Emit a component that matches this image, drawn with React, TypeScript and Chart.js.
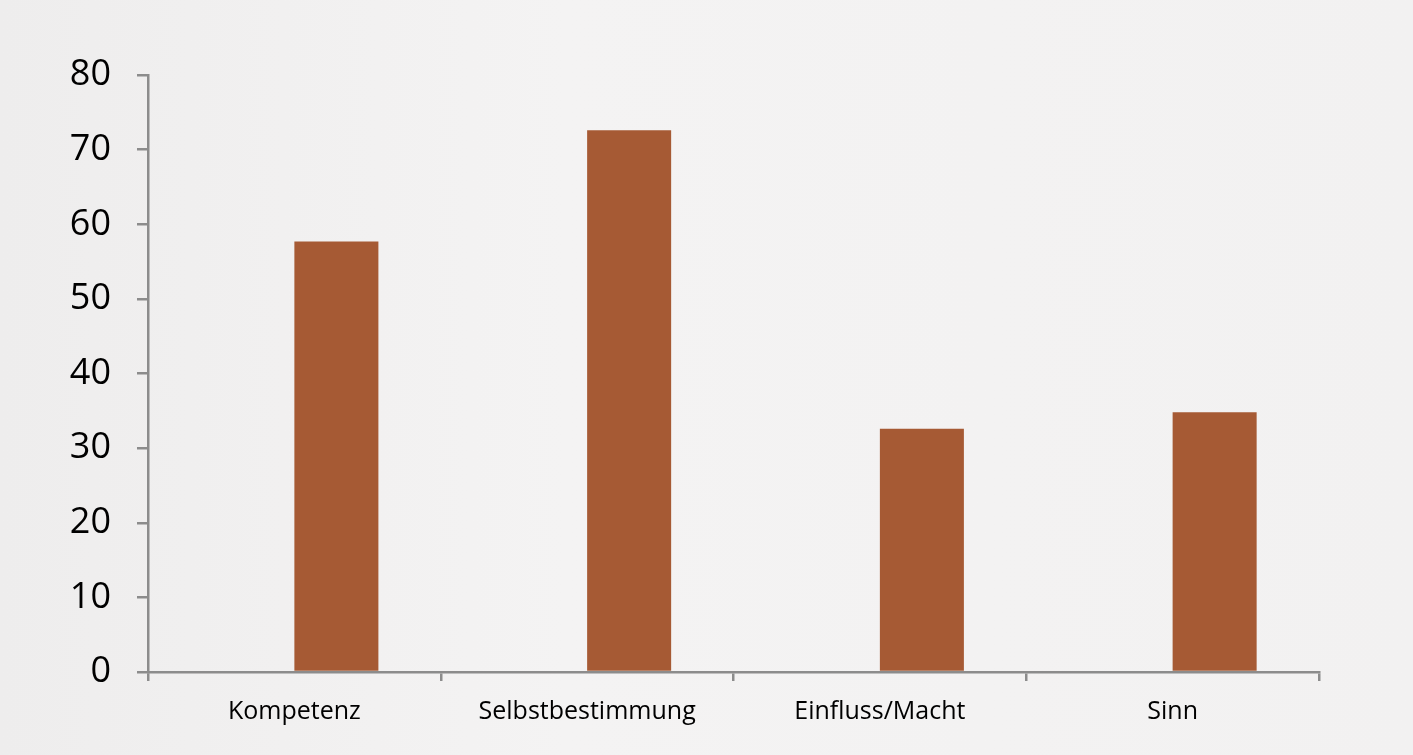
import { useEffect, useRef } from "react"
import { Chart, registerables } from "chart.js"

Chart.register(...registerables)

const categories = ["Kompetenz", "Selbstbestimmung", "Einfluss/Macht", "Sinn"]
// leere erste Reihe: hält den linken Platz jeder Kategorie frei
const emptySeries = [null, null, null, null]
const values = [57.7, 72.6, 32.6, 34.8]
const yTicks = [0, 10, 20, 30, 40, 50, 60, 70, 80]

const axisColor = "#8c8c8c"
const barColor = "#a65a34"

export default function App() {
  const canvasRef = useRef<HTMLCanvasElement>(null)

  useEffect(() => {
    if (!canvasRef.current) return
    const chart = new Chart(canvasRef.current, {
      type: "bar",
      data: {
        labels: categories,
        datasets: [
          { label: "", data: emptySeries, backgroundColor: "transparent" },
          { label: "Wert", data: values, backgroundColor: barColor },
        ],
      },
      options: {
        animation: false,
        responsive: true,
        maintainAspectRatio: false,
        layout: { padding: { top: 75, right: 94, left: 0, bottom: 0 } },
        datasets: { bar: { categoryPercentage: 0.574, barPercentage: 1 } },
        plugins: { legend: { display: false }, tooltip: { enabled: false } },
        scales: {
          x: {
            afterFit: (scale: any) => {
              scale.height = 83
            },
            border: { color: axisColor, width: 2.5 },
            grid: {
              offset: true,
              drawOnChartArea: false,
              color: axisColor,
              lineWidth: 2.5,
              tickLength: 9,
            },
            ticks: {
              color: "#000",
              padding: 16,
              font: { family: "'Open Sans', sans-serif", size: 25 },
            },
          },
          y: {
            min: 0,
            max: 80,
            afterFit: (scale: any) => {
              scale.width = 148
            },
            afterBuildTicks: (scale: any) => {
              scale.ticks = yTicks.map((v) => ({ value: v }))
            },
            border: { color: axisColor, width: 2.5 },
            grid: {
              drawOnChartArea: false,
              color: axisColor,
              lineWidth: 2.5,
              tickLength: 11,
            },
            ticks: {
              color: "#000",
              padding: 26,
              font: { family: "'Open Sans', sans-serif", size: 36 },
            },
          },
        },
      },
    })
    return () => chart.destroy()
  }, [])

  return (
    <div
      style={{
        position: "fixed",
        top: 0,
        left: 0,
        width: "100vw",
        height: "100vh",
        background: "linear-gradient(90deg, #eeeded 0%, #f4f3f3 40%, #f2f1f1 100%)",
      }}
    >
      <canvas ref={canvasRef} />
    </div>
  )
}
